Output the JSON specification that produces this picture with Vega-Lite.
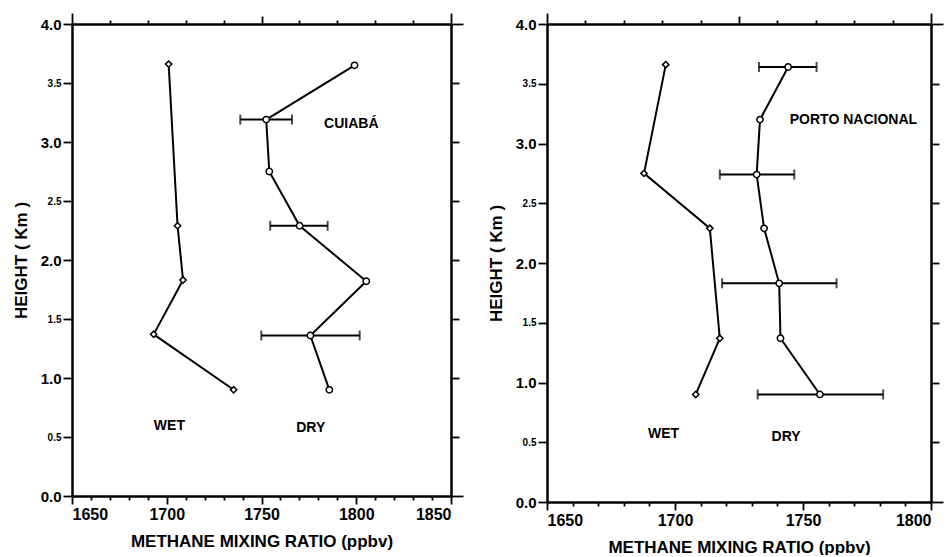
{
  "$schema": "https://vega.github.io/schema/vega-lite/v6.json",
  "padding": {"left": 12, "top": 12, "right": 0, "bottom": 0},
  "spacing": 23,
  "background": "white",
  "config": {
    "view": {"stroke": null},
    "font": "Liberation Sans",
    "axis": {
      "grid": false,
      "domainColor": "#000000",
      "domainWidth": 2.5,
      "domainOpacity": 1,
      "tickColor": "#000000",
      "tickWidth": 1.8,
      "tickOpacity": 1,
      "labelFont": "Liberation Sans",
      "labelFontWeight": "bold",
      "labelColor": "#000000",
      "titleFont": "Liberation Sans",
      "titleFontWeight": "bold",
      "titleColor": "#000000",
      "titleFontSize": 17,
      "labelOverlap": false,
      "labelBound": false
    }
  },
  "datasets": {
    "cuiaba": [
      {"series": "WET", "ch4": 1701.0, "height": 3.66},
      {"series": "WET", "ch4": 1705.7, "height": 2.29},
      {"series": "WET", "ch4": 1708.6, "height": 1.83},
      {"series": "WET", "ch4": 1693.1, "height": 1.37},
      {"series": "WET", "ch4": 1735.3, "height": 0.90},
      {"series": "DRY", "ch4": 1799.1, "height": 3.65},
      {"series": "DRY", "ch4": 1752.5, "height": 3.19},
      {"series": "DRY", "ch4": 1754.1, "height": 2.75},
      {"series": "DRY", "ch4": 1770.1, "height": 2.29},
      {"series": "DRY", "ch4": 1805.3, "height": 1.82},
      {"series": "DRY", "ch4": 1775.8, "height": 1.36},
      {"series": "DRY", "ch4": 1785.8, "height": 0.90}
    ],
    "cuiaba_err": [
      {"height": 3.19, "lo": 1738.8, "hi": 1766.1},
      {"height": 2.29, "lo": 1754.6, "hi": 1784.9},
      {"height": 1.36, "lo": 1749.9, "hi": 1801.8}
    ],
    "cuiaba_labels": [
      {"label": "CUIABÁ", "ch4": 1797.4, "height": 3.15},
      {"label": "WET", "ch4": 1701.4, "height": 0.59},
      {"label": "DRY", "ch4": 1776.0, "height": 0.58}
    ],
    "porto": [
      {"series": "WET", "ch4": 1696.4, "height": 3.66},
      {"series": "WET", "ch4": 1687.9, "height": 2.75},
      {"series": "WET", "ch4": 1713.6, "height": 2.29},
      {"series": "WET", "ch4": 1717.5, "height": 1.37},
      {"series": "WET", "ch4": 1708.1, "height": 0.90},
      {"series": "DRY", "ch4": 1744.2, "height": 3.64},
      {"series": "DRY", "ch4": 1733.2, "height": 3.20},
      {"series": "DRY", "ch4": 1731.9, "height": 2.74},
      {"series": "DRY", "ch4": 1734.8, "height": 2.29},
      {"series": "DRY", "ch4": 1740.7, "height": 1.83},
      {"series": "DRY", "ch4": 1741.2, "height": 1.37},
      {"series": "DRY", "ch4": 1756.6, "height": 0.90}
    ],
    "porto_err": [
      {"height": 3.64, "lo": 1732.8, "hi": 1755.3},
      {"height": 2.74, "lo": 1717.5, "hi": 1746.6},
      {"height": 1.83, "lo": 1718.4, "hi": 1763.1},
      {"height": 0.90, "lo": 1732.3, "hi": 1781.3}
    ],
    "porto_labels": [
      {"label": "PORTO NACIONAL", "ch4": 1769.7, "height": 3.20},
      {"label": "WET", "ch4": 1695.5, "height": 0.57},
      {"label": "DRY", "ch4": 1743.4, "height": 0.54}
    ]
  },
  "hconcat": [
    {
      "width": 379,
      "height": 472,
      "resolve": {"axis": {"x": "independent", "y": "independent"}},
      "layer": [
        {
          "data": {"name": "cuiaba"},
          "mark": {"type": "line", "color": "black", "strokeWidth": 2},
          "encoding": {
            "x": {"field": "ch4", "type": "quantitative", "scale": {"domain": [1650, 1850], "nice": false, "zero": false},
              "axis": {"orient": "bottom", "title": "METHANE MIXING RATIO (ppbv)", "values": [1650,1660,1670,1680,1690,1700,1710,1720,1730,1740,1750,1760,1770,1780,1790,1800,1810,1820,1830,1840,1850],
                "format": "d", "labelExpr": "datum.value % 50 === 0 ? datum.label : ''", "labelFontSize": 16, "labelPadding": 2, "titlePadding": 11,
                "domainColor": "#000000", "domainWidth": 2.5,
                "tickSize": {"condition": {"test": "datum.value % 50 === 0", "value": 8}, "value": 4}}},
            "y": {"field": "height", "type": "quantitative", "scale": {"domain": [0, 4], "nice": false, "zero": true},
              "axis": {"orient": "left", "title": "HEIGHT ( Km )", "values": [0,0.5,1,1.5,2,2.5,3,3.5,4], "format": ".1f", "tickSize": 9, "labelPadding": 2, "titlePadding": 10,
                "domainColor": "#000000", "domainWidth": 2.5,
                "labelFontSize": {"condition": {"test": "datum.value % 1 === 0", "value": 15}, "value": 10}}},
            "detail": {"field": "series"},
            "order": {"field": "height"}
          }
        },
        {
          "data": {"name": "cuiaba_err"},
          "mark": {"type": "rule", "color": "black", "strokeWidth": 2},
          "encoding": {
            "x": {"field": "lo", "type": "quantitative", "axis": null},
            "x2": {"field": "hi"},
            "y": {"field": "height", "type": "quantitative", "axis": null}
          }
        },
        {
          "data": {"name": "cuiaba_err"},
          "mark": {"type": "tick", "orient": "vertical", "color": "black", "size": 10, "thickness": 2},
          "encoding": {
            "x": {"field": "lo", "type": "quantitative", "axis": null},
            "y": {"field": "height", "type": "quantitative", "axis": null}
          }
        },
        {
          "data": {"name": "cuiaba_err"},
          "mark": {"type": "tick", "orient": "vertical", "color": "black", "size": 10, "thickness": 2},
          "encoding": {
            "x": {"field": "hi", "type": "quantitative", "axis": null},
            "y": {"field": "height", "type": "quantitative", "axis": null}
          }
        },
        {
          "data": {"name": "cuiaba"},
          "mark": {"type": "point", "filled": true, "fill": "white", "stroke": "black", "strokeWidth": 1.5, "size": 40, "opacity": 1},
          "encoding": {
            "x": {"field": "ch4", "type": "quantitative", "axis": null},
            "y": {"field": "height", "type": "quantitative", "axis": null},
            "shape": {"field": "series", "type": "nominal", "scale": {"domain": ["WET", "DRY"], "range": ["diamond", "circle"]}, "legend": null}
          }
        },
        {
          "data": {"name": "cuiaba_labels"},
          "mark": {"type": "text", "font": "Liberation Sans", "fontWeight": "bold", "fontSize": 14, "color": "black", "align": "center", "baseline": "middle"},
          "encoding": {
            "x": {"field": "ch4", "type": "quantitative", "axis": null},
            "y": {"field": "height", "type": "quantitative", "axis": null},
            "text": {"field": "label"}
          }
        },
        {
          "data": {"name": "cuiaba"},
          "mark": {"type": "point", "opacity": 0},
          "encoding": {
            "x": {"field": "ch4", "type": "quantitative",
              "axis": {"orient": "top", "title": null, "labels": false, "values": [1650,1670,1690,1710,1730,1750,1770,1790,1810,1830,1850],
                "domainColor": "#000000", "domainWidth": 2.5,
                "tickSize": {"condition": [{"test": "datum.value === 1650 || datum.value === 1850", "value": 11}, {"test": "datum.value === 1750", "value": 8}], "value": 4}}},
            "y": {"field": "height", "type": "quantitative",
              "axis": {"orient": "right", "title": null, "labels": false, "values": [0,0.5,1,1.5,2,2.5,3,3.5,4],
                "domainColor": "#000000", "domainWidth": 2.5,
                "tickSize": {"condition": {"test": "datum.value === 0 || datum.value === 4", "value": 12}, "value": 8}}}
          }
        }
      ]
    },
    {
      "width": 384,
      "height": 478,
      "resolve": {"axis": {"x": "independent", "y": "independent"}},
      "layer": [
        {
          "data": {"name": "porto"},
          "mark": {"type": "line", "color": "black", "strokeWidth": 2},
          "encoding": {
            "x": {"field": "ch4", "type": "quantitative", "scale": {"domain": [1650, 1800], "nice": false, "zero": false},
              "axis": {"orient": "bottom", "title": "METHANE MIXING RATIO (ppbv)", "values": [1650,1660,1670,1680,1690,1700,1710,1720,1730,1740,1750,1760,1770,1780,1790,1800],
                "format": "d", "labelExpr": "datum.value % 50 === 0 ? datum.label : ''", "labelFontSize": 16, "labelPadding": 2, "titlePadding": 11,
                "domainColor": "#000000", "domainWidth": 2.5,
                "tickSize": {"condition": {"test": "datum.value % 50 === 0", "value": 8}, "value": 4}}},
            "y": {"field": "height", "type": "quantitative", "scale": {"domain": [0, 4], "nice": false, "zero": true},
              "axis": {"orient": "left", "title": "HEIGHT ( Km )", "values": [0,0.5,1,1.5,2,2.5,3,3.5,4], "format": ".1f", "tickSize": 9, "labelPadding": 2, "titlePadding": 10,
                "domainColor": "#000000", "domainWidth": 2.5,
                "labelFontSize": {"condition": {"test": "datum.value % 1 === 0", "value": 15}, "value": 10}}},
            "detail": {"field": "series"},
            "order": {"field": "height"}
          }
        },
        {
          "data": {"name": "porto_err"},
          "mark": {"type": "rule", "color": "black", "strokeWidth": 2},
          "encoding": {
            "x": {"field": "lo", "type": "quantitative", "axis": null},
            "x2": {"field": "hi"},
            "y": {"field": "height", "type": "quantitative", "axis": null}
          }
        },
        {
          "data": {"name": "porto_err"},
          "mark": {"type": "tick", "orient": "vertical", "color": "black", "size": 10, "thickness": 2},
          "encoding": {
            "x": {"field": "lo", "type": "quantitative", "axis": null},
            "y": {"field": "height", "type": "quantitative", "axis": null}
          }
        },
        {
          "data": {"name": "porto_err"},
          "mark": {"type": "tick", "orient": "vertical", "color": "black", "size": 10, "thickness": 2},
          "encoding": {
            "x": {"field": "hi", "type": "quantitative", "axis": null},
            "y": {"field": "height", "type": "quantitative", "axis": null}
          }
        },
        {
          "data": {"name": "porto"},
          "mark": {"type": "point", "filled": true, "fill": "white", "stroke": "black", "strokeWidth": 1.5, "size": 40, "opacity": 1},
          "encoding": {
            "x": {"field": "ch4", "type": "quantitative", "axis": null},
            "y": {"field": "height", "type": "quantitative", "axis": null},
            "shape": {"field": "series", "type": "nominal", "scale": {"domain": ["WET", "DRY"], "range": ["diamond", "circle"]}, "legend": null}
          }
        },
        {
          "data": {"name": "porto_labels"},
          "mark": {"type": "text", "font": "Liberation Sans", "fontWeight": "bold", "fontSize": 14, "color": "black", "align": "center", "baseline": "middle"},
          "encoding": {
            "x": {"field": "ch4", "type": "quantitative", "axis": null},
            "y": {"field": "height", "type": "quantitative", "axis": null},
            "text": {"field": "label"}
          }
        },
        {
          "data": {"name": "porto"},
          "mark": {"type": "point", "opacity": 0},
          "encoding": {
            "x": {"field": "ch4", "type": "quantitative",
              "axis": {"orient": "top", "title": null, "labels": false, "values": [1650,1665,1680,1695,1710,1725,1740,1755,1770,1785,1800],
                "domainColor": "#000000", "domainWidth": 2.5,
                "tickSize": {"condition": [{"test": "datum.value === 1650 || datum.value === 1800", "value": 11}, {"test": "datum.value === 1725", "value": 8}], "value": 4}}},
            "y": {"field": "height", "type": "quantitative",
              "axis": {"orient": "right", "title": null, "labels": false, "values": [0,0.5,1,1.5,2,2.5,3,3.5,4],
                "domainColor": "#000000", "domainWidth": 2.5,
                "tickSize": {"condition": {"test": "datum.value === 0 || datum.value === 4", "value": 12}, "value": 8}}}
          }
        }
      ]
    }
  ]
}
